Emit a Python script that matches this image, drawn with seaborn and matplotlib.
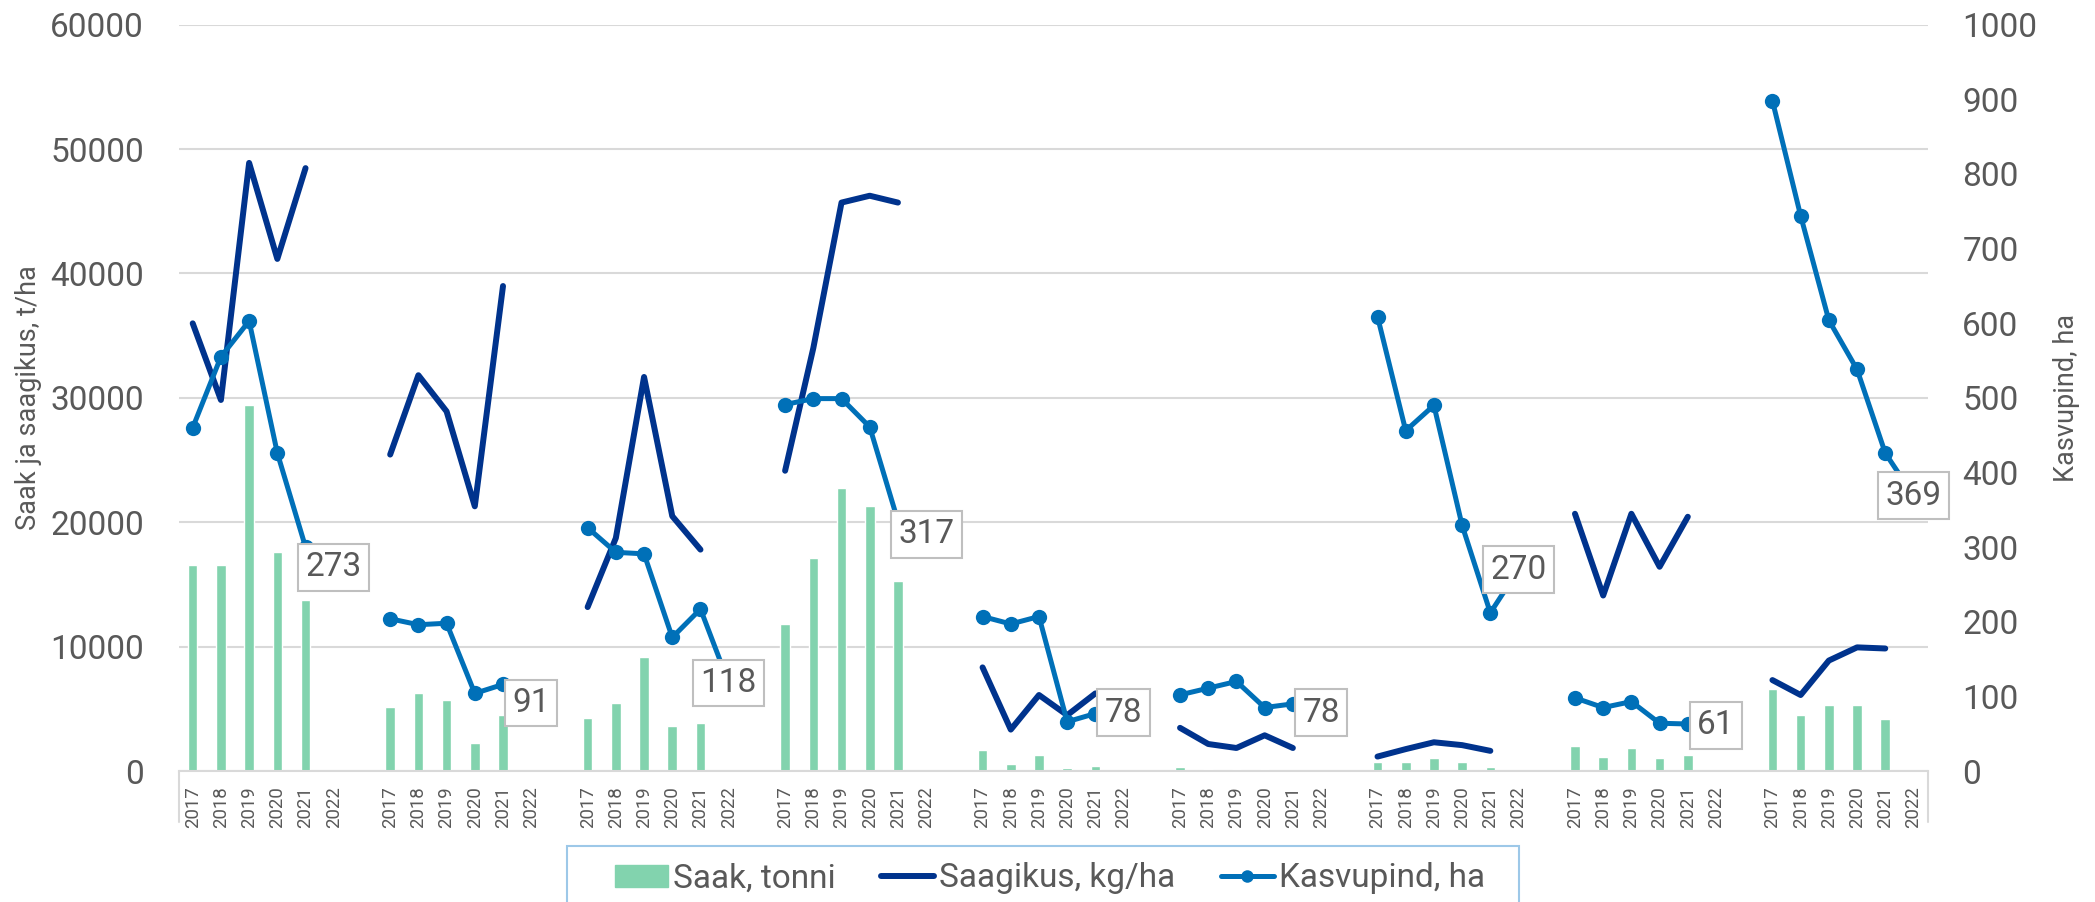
import matplotlib
matplotlib.use("Agg")
import numpy as np
import pandas as pd
import matplotlib.pyplot as plt
import seaborn as sns
from matplotlib.lines import Line2D
from matplotlib.patches import Patch, Rectangle

sns.set_style("white")
plt.rcParams["font.family"] = ["Roboto", "DejaVu Sans"]

# data: 9 groups, years 2017-2022 in each
years = [2017, 2018, 2019, 2020, 2021, 2022]

# Saak, tonni (left axis, bars)
saak = [
    [16560, 16560, 29420, 17580, 13780, None],
    [5180, 6240, 5690, 2220, 4490, None],
    [4300, 5460, 9200, 3600, 3840, None],
    [11790, 17110, 22760, 21280, 15260, None],
    [1670, 600, 1250, 230, 370, None],
    [320, 190, 140, 190, 90, None],
    [690, 690, 1060, 690, 320, None],
    [1990, 1160, 1850, 1020, 1250, None],
    [6570, 4490, 5320, 5320, 4160, None],
]

# Saagikus, kg/ha (left axis, line)
saagikus = [
    [35990, 29830, 48890, 41170, 48470, None],
    [25440, 31820, 28910, 21280, 38990, None],
    [13180, 18730, 31680, 20490, 17800, None],
    [24140, 34000, 45700, 46250, 45700, None],
    [8330, 3330, 6110, 4490, 6240, None],
    [3470, 2170, 1850, 2870, 1850, None],
    [1160, 1760, 2310, 2080, 1620, None],
    [20680, 14110, 20680, 16420, 20440, None],
    [7310, 6110, 8880, 9940, 9850, None],
]

# Kasvupind, ha (right axis, line with markers)
kasvupind = [
    [460, 555, 603, 426, 300, 273],
    [204, 196, 198, 104, 116, 91],
    [326, 293, 291, 179, 217, 118],
    [491, 499, 499, 461, 335, 317],
    [207, 197, 207, 66, 77, 78],
    [102, 111, 120, 85, 90, 78],
    [609, 456, 490, 329, 212, 270],
    [98, 85, 93, 64, 63, 61],
    [898, 744, 604, 538, 426, 369],
]

GREEN = "#82D3AE"
NAVY = "#00338D"
BLUE = "#0070B8"
GREY = "#595959"
GRID = "#D9D9D9"
NARROW = ["Liberation Sans Narrow", "Roboto", "DejaVu Sans"]

# long table, one empty slot between groups
rows = []
for g in range(len(saak)):
    for j, yr in enumerate(years):
        rows.append({
            "group": g,
            "pos": g * (len(years) + 1) + j,
            "year": yr,
            "saak": saak[g][j],
            "saagikus": saagikus[g][j],
            "kasvupind": kasvupind[g][j],
        })
df = pd.DataFrame(rows).astype({"saak": float, "saagikus": float, "kasvupind": float})

fig = plt.figure(figsize=(20.95, 9.02), dpi=100)
ax = fig.add_axes([0.08525, 0.14523, 0.83484, 0.82738])
ax2 = ax.twinx()

sns.barplot(data=df.dropna(subset=["saak"]), x="pos", y="saak", native_scale=True,
            width=0.34, color=GREEN, saturation=1, errorbar=None, ax=ax)
sns.lineplot(data=df, x="pos", y="saagikus", units="group", estimator=None,
             color=NAVY, lw=4.3, solid_joinstyle="round", legend=False, ax=ax)
sns.lineplot(data=df, x="pos", y="kasvupind", units="group", estimator=None,
             color=BLUE, lw=3.6, marker="o", markersize=11, markeredgewidth=0,
             solid_joinstyle="round", legend=False, ax=ax2)

# boxed labels on the last point of each group
last = df[df["year"] == years[-1]]
for _, r in last.iterrows():
    ax2.text(r["pos"], r["kasvupind"], f"{int(r['kasvupind'])}", ha="center", va="center",
             fontsize=24, color=GREY, zorder=10,
             bbox=dict(boxstyle="square,pad=0.22", fc="white", ec="#BFBFBF", lw=1.5))

# axes
ax.set_xlim(-0.5, df["pos"].max() + 0.5)
ax.set_ylim(0, 60000)
ax.set_yticks(np.arange(0, 60001, 10000))
ax2.set_ylim(0, 1000)
ax2.set_yticks(np.arange(0, 1001, 100))
ax.set_xticks(df["pos"], labels=df["year"].astype(str), rotation=90,
              fontsize=13.4, family=NARROW, color=GREY)

ax.yaxis.grid(True, color=GRID, lw=1.5)
ax.set_axisbelow(True)
for s in ["left", "right", "top"]:
    ax.spines[s].set_visible(False)
for s in ax2.spines.values():
    s.set_visible(False)
ax.spines["bottom"].set_color(GRID)
ax.spines["bottom"].set_linewidth(1.5)
# category axis end marks
for xv in ax.get_xlim():
    ax.axvline(xv, ymin=-0.068, ymax=0, clip_on=False, color=GRID, lw=1.5)

ax.tick_params(axis="y", length=0, pad=25, labelsize=24, labelcolor=GREY)
ax2.tick_params(axis="y", length=0, pad=25, labelsize=24, labelcolor=GREY)
ax.tick_params(axis="x", length=0, pad=11)

ax.set_xlabel("")
ax.set_ylabel("Saak ja saagikus, t/ha", fontsize=19.5, color=GREY, family=NARROW, labelpad=6)
ax2.set_ylabel("Kasvupind, ha", fontsize=19.5, color=GREY, family=NARROW, labelpad=11)

handles = [
    Patch(color=GREEN),
    Line2D([], [], color=NAVY, lw=4.3),
    Line2D([], [], color=BLUE, lw=3.6, marker="o", markersize=9, markeredgewidth=0),
]
labels = ["Saak, tonni", "Saagikus, kg/ha", "Kasvupind, ha"]
fig.legend(handles, labels, loc="upper left", bbox_to_anchor=(615 / 2095, 0.0439),
           ncol=3, fontsize=24, frameon=False, borderaxespad=0, borderpad=0,
           handlelength=1.6, handleheight=0.65, handletextpad=0.15,
           columnspacing=1.35, labelcolor=GREY)
# legend frame runs past the bottom edge of the picture
fig.patches.append(Rectangle((567 / 2095, -0.1), 952 / 2095, 0.1 + 0.0624,
                             transform=fig.transFigure, fill=False,
                             edgecolor="#9DC8E8", lw=1.5))

fig.savefig("out.png", dpi=100)
